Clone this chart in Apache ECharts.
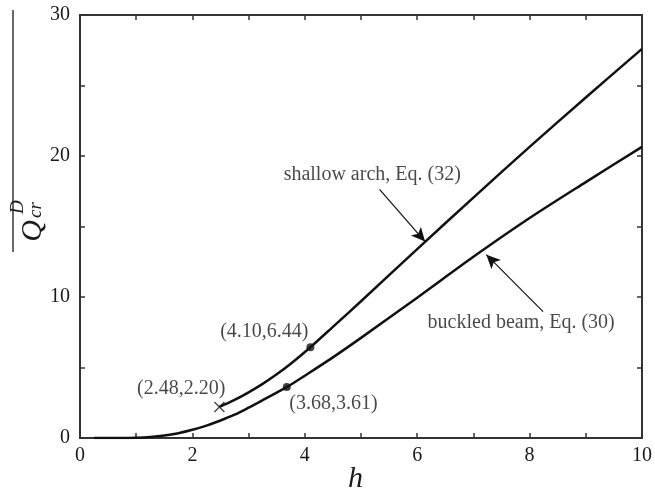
<!DOCTYPE html>
<html lang="en">
<head>
    <meta charset="utf-8">
    <title>Critical load vs h</title>
    <script src="https://cdn.jsdelivr.net/npm/echarts@6/dist/echarts.min.js"></script>
    <style>
        html, body { margin: 0; padding: 0; background: #fff; }
        #chart { width: 655px; height: 498px; }
    </style>
</head>
<body>
    <div id="chart"></div>
    <script>
        // buckled beam, Eq. (30)
        var beamH = [0.25, 0.5, 0.75, 1, 1.25, 1.5, 1.75, 2, 2.25, 2.5, 2.75, 3, 3.25, 3.5, 3.68, 4, 4.5, 5, 6, 7, 8, 9, 10];
        var beamQ = [0, 0, 0.005, 0.02, 0.07, 0.17, 0.34, 0.58, 0.88, 1.24, 1.65, 2.15, 2.68, 3.22, 3.61, 4.42, 5.72, 7.1, 9.95, 12.85, 15.6, 18.15, 20.65];

        // shallow arch, Eq. (32)
        var archH = [2.48, 2.75, 3, 3.25, 3.5, 3.75, 4.1, 4.5, 5, 6, 7, 8, 9, 10];
        var archQ = [2.2, 2.7, 3.24, 3.84, 4.52, 5.27, 6.44, 7.88, 9.7, 13.4, 17.05, 20.65, 24.15, 27.6];

        // marked points
        var dots = [[4.10, 6.44], [3.68, 3.61]];
        var cross = [[2.48, 2.20]];

        // annotation texts and their anchor positions (data units)
        var noteText = ['shallow arch, Eq. (32)', 'buckled beam, Eq. (30)', '(2.48,2.20)', '(4.10,6.44)', '(3.68,3.61)'];
        var noteH = [5.2, 7.85, 1.8, 3.28, 4.51];
        var noteQ = [18.7, 8.17, 3.48, 7.53, 2.42];

        // arrows: from -> to
        var arrows = [
            [[5.33, 17.63], [6.14, 13.93]],
            [[8.24, 8.96], [7.23, 13.0]]
        ];

        var xTicks = [0, 2, 4, 6, 8, 10];
        var yTicks = [0, 10, 20, 30];

        function pairs(xs, ys) {
            return xs.map(function (x, i) { return [x, ys[i]]; });
        }

        var serif = 'Liberation Serif';
        var ink = '#111';
        var txt = '#1a1a1a';
        var axisCol = '#333';

        function xAxisDef(pos, labels) {
            return {
                type: 'value', position: pos, min: 0, max: 10, interval: 1,
                axisLine: { show: true, onZero: false, lineStyle: { color: axisCol, width: 2 } },
                axisTick: { show: true, inside: true, length: 5, lineStyle: { color: axisCol, width: 1.5 } },
                axisLabel: {
                    show: labels, color: txt, fontFamily: serif, fontSize: 20, margin: 8,
                    formatter: function (v) { return xTicks.indexOf(v) >= 0 ? String(v) : ''; }
                },
                splitLine: { show: false }
            };
        }

        function yAxisDef(pos, labels) {
            return {
                type: 'value', position: pos, min: 0, max: 30, interval: 5,
                axisLine: { show: true, onZero: false, lineStyle: { color: axisCol, width: 2 } },
                axisTick: { show: true, inside: true, length: 5, lineStyle: { color: axisCol, width: 1.5 } },
                axisLabel: {
                    show: labels, color: txt, fontFamily: serif, fontSize: 20, margin: 10,
                    formatter: function (v) { return yTicks.indexOf(v) >= 0 ? String(v) : ''; }
                },
                splitLine: { show: false }
            };
        }

        var chart = echarts.init(document.getElementById('chart'));

        var option = {
            animation: false,
            backgroundColor: '#fff',
            grid: { left: 80, right: 8, top: 15, bottom: 60 },
            xAxis: [xAxisDef('bottom', true), xAxisDef('top', false)],
            yAxis: [yAxisDef('left', true), yAxisDef('right', false)],
            series: [
                {
                    type: 'line', data: pairs(beamH, beamQ), smooth: 0.3, showSymbol: false,
                    lineStyle: { color: ink, width: 2.5 }, z: 3
                },
                {
                    type: 'line', data: pairs(archH, archQ), smooth: 0.3, showSymbol: false,
                    lineStyle: { color: ink, width: 2.5 }, z: 3
                },
                {
                    type: 'scatter', data: dots, symbol: 'circle', symbolSize: 8,
                    itemStyle: { color: ink }, z: 4
                },
                {
                    type: 'scatter', data: cross, symbol: 'path://M0,0L10,10M10,0L0,10', symbolSize: 10,
                    itemStyle: { color: 'none', borderColor: ink, borderWidth: 1.3 }, z: 4
                },
                {
                    type: 'scatter', symbolSize: 0,
                    data: noteText.map(function (t, i) { return { name: t, value: [noteH[i], noteQ[i]] }; }),
                    label: {
                        show: true, position: 'inside', formatter: '{b}',
                        color: txt, fontFamily: serif, fontSize: 20
                    },
                    markLine: {
                        silent: true, symbol: ['none', 'arrow'], symbolSize: [10, 14],
                        lineStyle: { color: ink, width: 1.2, type: 'solid' },
                        label: { show: false },
                        data: arrows.map(function (a) {
                            return [{ coord: a[0] }, { coord: a[1] }];
                        })
                    }
                }
            ],
            graphic: [
                {
                    type: 'text', left: 348, top: 464,
                    style: { text: 'h', font: 'italic 30px "Liberation Serif"', fill: txt }
                },
                {
                    type: 'line', shape: { x1: 13, y1: 10, x2: 13, y2: 252 },
                    style: { stroke: txt, lineWidth: 1.3 }
                },
                {
                    type: 'group', x: 33, y: 231, rotation: Math.PI / 2,
                    children: [
                        {
                            type: 'text',
                            style: { x: 0, y: 0, text: 'Q', align: 'center', verticalAlign: 'middle',
                                font: 'italic 30px "Liberation Serif"', fill: txt }
                        },
                        {
                            type: 'text',
                            style: { x: 17, y: -15, text: 'D', align: 'left', verticalAlign: 'middle',
                                font: 'italic 19px "Liberation Serif"', fill: txt }
                        },
                        {
                            type: 'text',
                            style: { x: 13, y: 3, text: 'cr', align: 'left', verticalAlign: 'middle',
                                font: 'italic 19px "Liberation Serif"', fill: txt }
                        }
                    ]
                }
            ]
        };

        chart.setOption(option);
    </script>
</body>
</html>
